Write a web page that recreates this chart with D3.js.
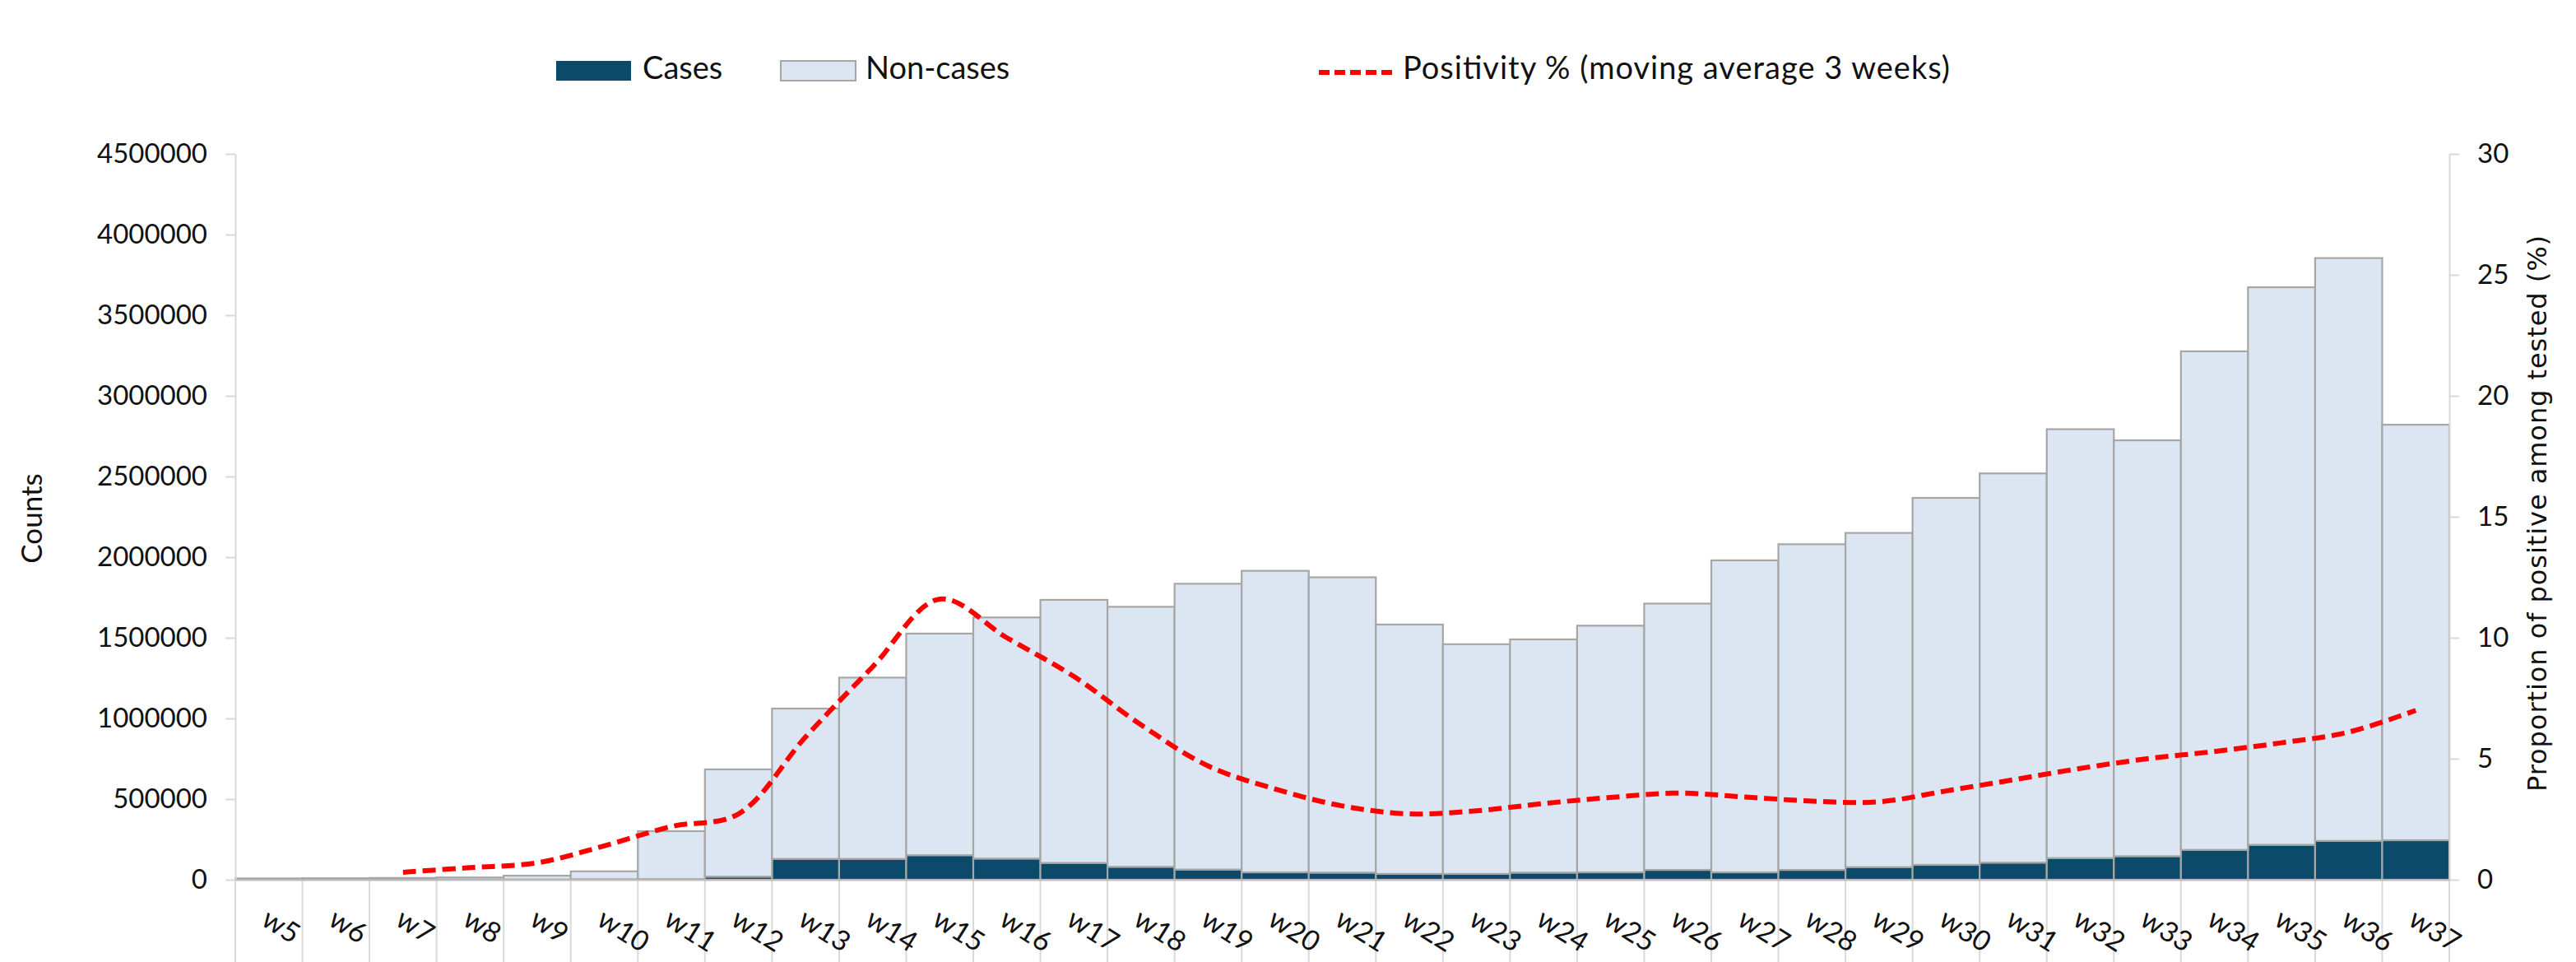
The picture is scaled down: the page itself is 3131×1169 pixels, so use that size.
<!DOCTYPE html>
<html>
<head>
<meta charset="utf-8">
<script src="https://cdn.jsdelivr.net/npm/d3@7"></script>
<style>
  html, body { margin: 0; padding: 0; background: #ffffff; }
  svg { display: block; }
</style>
</head>
<body>
<div id="chart"></div>
<script>
// ---------------- DATA ----------------
const weeks = ["w5","w6","w7","w8","w9","w10","w11","w12","w13","w14","w15","w16","w17","w18","w19","w20","w21","w22","w23","w24","w25","w26","w27","w28","w29","w30","w31","w32","w33","w34","w35","w36","w37"];
const cases = [0, 0, 200, 500, 1500, 3000, 4000, 19000, 129000, 129000, 152000, 131000, 104000, 80000, 63000, 46000, 44000, 36000, 36000, 44000, 46000, 61000, 46000, 61000, 78000, 92000, 106000, 134000, 146000, 185000, 216000, 241000, 245000];
const nonCases = [8000, 9000, 10800, 13500, 23500, 49000, 297000, 665000, 932000, 1124000, 1374000, 1495000, 1631000, 1612000, 1772000, 1869000, 1831000, 1546000, 1424000, 1446000, 1529000, 1651000, 1934000, 2019000, 2072000, 2275000, 2413000, 2659000, 2578000, 3091000, 3457000, 3613000, 2576000];
const positivity = [null, null, 0.31, 0.5, 0.7, 1.4, 2.2, 2.72, 5.9, 8.8, 11.6, 10.0, 8.4, 6.4, 4.7, 3.75, 3.05, 2.72, 2.85, 3.15, 3.4, 3.58, 3.42, 3.25, 3.22, 3.67, 4.13, 4.6, 5.0, 5.3, 5.66, 6.1, 7.0];
const countTicks = [0, 500000, 1000000, 1500000, 2000000, 2500000, 3000000, 3500000, 4000000, 4500000];
const pctTicks = [0, 5, 10, 15, 20, 25, 30];
const seriesNames = ["Cases", "Non-cases"];
const lineName = "Positivity % (moving average 3 weeks)";
const leftTitle = "Counts";
const rightTitle = "Proportion of positive among tested (%)";

// ---------------- LAYOUT ----------------
const W = 3131, H = 1169;
const plot = { left: 286, right: 2977, top: 187, bottom: 1069 };
const colCases = "#0c4a6b", colNon = "#dce6f2", colEdge = "#a6a6a6", colAxis = "#d9d9d9";
const mainFont = "Lato, 'Open Sans', sans-serif";

const svg = d3.select("#chart").append("svg")
  .attr("width", W).attr("height", H)
  .attr("viewBox", `0 0 ${W} ${H}`);

const x = d3.scaleBand().domain(weeks).range([plot.left, plot.right]).padding(0);
const yL = d3.scaleLinear().domain([0, 4500000]).range([plot.bottom, plot.top]);
const yR = d3.scaleLinear().domain([0, 30]).range([plot.bottom, plot.top]);

// category separator lines below the axis
const edges = weeks.map(w => x(w)).concat([plot.right]);
svg.append("g").selectAll("line").data(edges).join("line")
  .attr("x1", d => d).attr("x2", d => d)
  .attr("y1", plot.bottom).attr("y2", H)
  .attr("stroke", colAxis).attr("stroke-width", 2);

// stacked bars
const table = weeks.map((w, i) => ({ week: w, Cases: cases[i], "Non-cases": nonCases[i] }));
const stack = d3.stack().keys(seriesNames)(table);
const colors = { "Cases": colCases, "Non-cases": colNon };
svg.append("g").selectAll("g").data(stack).join("g")
  .attr("fill", d => colors[d.key])
  .selectAll("rect").data(d => d).join("rect")
  .attr("x", d => x(d.data.week))
  .attr("width", x.bandwidth())
  .attr("y", d => yL(d[1]))
  .attr("height", d => Math.max(0, yL(d[0]) - yL(d[1])))
  .attr("stroke", colEdge).attr("stroke-width", 2.2);

// left axis
const gL = svg.append("g").attr("transform", `translate(${plot.left},0)`)
  .call(d3.axisLeft(yL).tickValues(countTicks).tickSize(12).tickSizeOuter(0).tickPadding(22).tickFormat(d3.format("d")));
gL.select(".domain").attr("stroke", colAxis).attr("stroke-width", 2);
gL.selectAll(".tick line").attr("stroke", colAxis).attr("stroke-width", 2);
gL.selectAll(".tick text").attr("font-family", mainFont).attr("font-size", 33).attr("fill", "#111");

// right axis
const gR = svg.append("g").attr("transform", `translate(${plot.right},0)`)
  .call(d3.axisRight(yR).tickValues(pctTicks).tickSize(12).tickSizeOuter(0).tickPadding(22));
gR.select(".domain").attr("stroke", colAxis).attr("stroke-width", 2);
gR.selectAll(".tick line").attr("stroke", colAxis).attr("stroke-width", 2);
gR.selectAll(".tick text").attr("font-family", mainFont).attr("font-size", 33).attr("fill", "#111");

// bottom axis
const gB = svg.append("g").attr("transform", `translate(0,${plot.bottom})`)
  .call(d3.axisBottom(x).tickSize(0).tickSizeOuter(0));
gB.select(".domain").attr("stroke", "#bfbfbf").attr("stroke-width", 2);
gB.selectAll(".tick text")
  .attr("font-family", mainFont).attr("font-size", 34).attr("fill", "#111")
  .attr("y", null).attr("dy", null)
  .attr("text-anchor", "start")
  .attr("transform", "translate(-11,54) rotate(32)");

// positivity line
const line = d3.line()
  .defined(d => d.v != null)
  .x(d => x(d.week) + x.bandwidth() / 2)
  .y(d => yR(d.v))
  .curve(d3.curveCatmullRom.alpha(0.5));
svg.append("path")
  .datum(weeks.map((w, i) => ({ week: w, v: positivity[i] })))
  .attr("d", line)
  .attr("fill", "none")
  .attr("stroke", "#ff0000")
  .attr("stroke-width", 6)
  .attr("stroke-dasharray", "16,8");

// axis titles
svg.append("text")
  .attr("transform", `translate(42,630) rotate(-90)`)
  .attr("text-anchor", "middle").attr("dominant-baseline", "middle")
  .attr("font-family", mainFont).attr("font-size", 35).attr("fill", "#111")
  .text(leftTitle);
svg.append("text")
  .attr("transform", `translate(3086,624) rotate(-90)`)
  .attr("text-anchor", "middle").attr("dominant-baseline", "middle")
  .attr("font-family", "'DejaVu Sans', Verdana, sans-serif").attr("font-size", 32).attr("fill", "#111")
  .attr("textLength", 676).attr("lengthAdjust", "spacing")
  .text(rightTitle);

// legend
const leg = svg.append("g");
const legY = 86;
const legItems = [
  { name: seriesNames[0], fill: colCases, stroke: "none", x: 676, tx: 781 },
  { name: seriesNames[1], fill: colNon, stroke: colEdge, x: 949, tx: 1052 }
];
legItems.forEach(it => {
  leg.append("rect").attr("x", it.x).attr("y", legY - 12).attr("width", 91).attr("height", 24)
    .attr("fill", it.fill).attr("stroke", it.stroke).attr("stroke-width", 2);
  leg.append("text").attr("x", it.tx).attr("y", legY).attr("dominant-baseline", "middle")
    .attr("font-family", mainFont).attr("font-size", 38).attr("fill", "#111").text(it.name);
});
leg.append("line").attr("x1", 1603).attr("x2", 1698).attr("y1", legY + 2).attr("y2", legY + 2)
  .attr("stroke", "#ff0000").attr("stroke-width", 6).attr("stroke-dasharray", "13,6");
leg.append("text").attr("x", 1705).attr("y", legY).attr("dominant-baseline", "middle")
  .attr("font-family", mainFont).attr("font-size", 38).attr("fill", "#111")
  .attr("textLength", 665).attr("lengthAdjust", "spacing")
  .text(lineName);
</script>
</body>
</html>
